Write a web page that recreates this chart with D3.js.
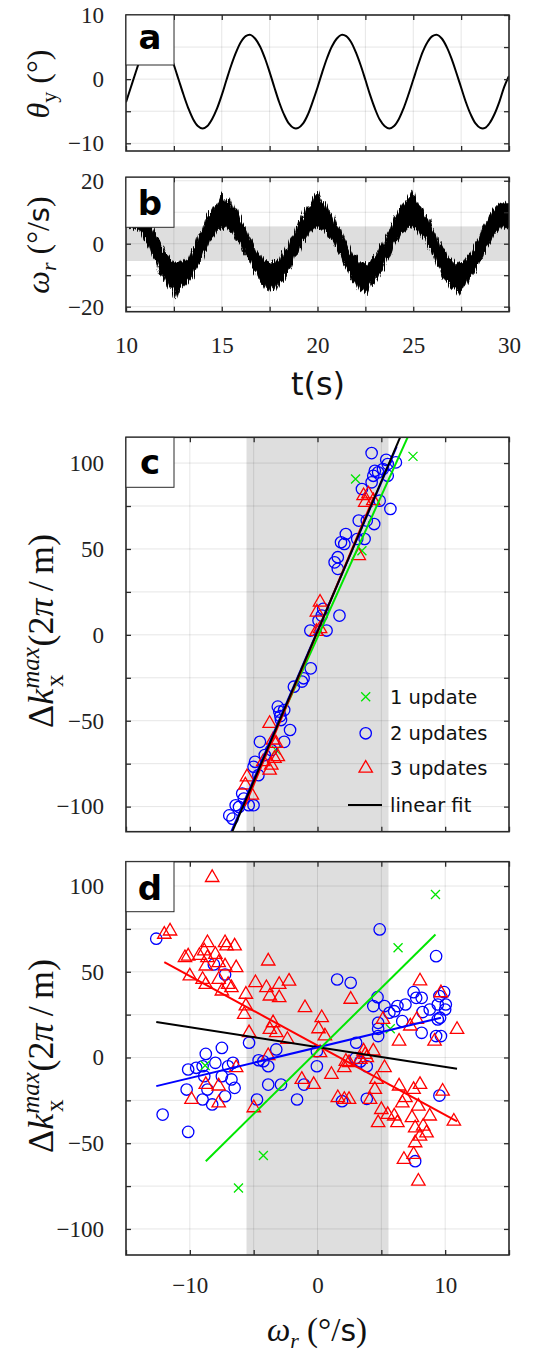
<!DOCTYPE html>
<html><head><meta charset="utf-8">
<script src="https://cdn.jsdelivr.net/npm/d3@7"></script>
<style>body{margin:0;background:#fff}svg{display:block}</style>
</head><body>
<svg id="chart" width="539" height="1353"></svg>
<script>
// ---------------- DATA ----------------
// panel a: theta_y (deg), sampled every 0.25 s from t = 10 s
const thetaValues = [-3.6,-1.3,1.0,3.2,5.0,6.3,6.9,6.7,5.8,4.2,
 2.2,-0.1,-2.4,-4.5,-6.2,-7.3,-7.7,-7.3,-6.2,-4.6,
 -2.5,-0.1,2.2,4.2,5.8,6.7,6.9,6.3,5.1,3.3,
 1.1,-1.3,-3.6,-5.5,-6.9,-7.6,-7.6,-6.9,-5.5,-3.5,
 -1.3,1.1,3.3,5.1,6.3,6.9,6.7,5.8,4.2,2.2,
 -0.1,-2.5,-4.6,-6.3,-7.3,-7.7,-7.3,-6.2,-4.5,-2.4,
 -0.1,2.2,4.3,5.8,6.7,6.9,6.3,5.0,3.2,1.0,
 -1.3,-3.6,-5.5,-6.9,-7.6,-7.6,-6.8,-5.4,-3.5,-1.2,0.5];
const thetaStart = 10, thetaStep = 0.25;

// panel b: omega_r noisy band (upper / lower envelope), every 0.2 s from t = 10 s
const omegaUpper = [12.1,13.9,12.2,13.3,10.4,10.2,6.6,4.6,2.2,-0.2,
 -2.8,-3.5,-5.9,-5.7,-5.9,-5.3,-5.1,-2.0,-0.8,2.9,
 4.2,7.9,9.8,12.0,12.7,15.8,13.1,14.6,11.0,11.4,
 7.7,5.8,3.0,1.1,-2.2,-3.4,-5.5,-5.3,-6.8,-4.8,
 -5.5,-2.6,-1.6,1.8,3.1,6.9,8.0,11.6,11.8,14.9,
 16.5,13.2,13.0,10.1,9.3,6.0,4.6,1.4,-0.5,-3.2,
 -4.0,-6.2,-5.6,-6.8,-4.7,-4.4,-1.8,-0.2,3.0,4.8,
 8.0,9.7,12.0,13.3,14.6,17.1,12.8,11.7,9.0,7.9,
 4.6,2.9,-0.7,-1.8,-4.6,-4.9,-6.6,-5.7,-6.0,-4.1,
 -3.1,-0.2,1.5,4.6,6.5,9.6,11.0,12.4,12.9,13.2,12.7];
const omegaLower = [5.4,4.7,4.9,4.5,3.6,0.6,-0.5,-4.0,-5.5,-9.3,
 -11.2,-14.2,-13.7,-17.6,-14.4,-13.7,-12.5,-11.3,-8.3,-6.6,
 -3.0,-1.8,1.2,2.3,4.5,4.6,5.9,3.9,3.8,1.2,
 0.2,-3.3,-4.5,-8.0,-9.5,-11.8,-13.1,-15.6,-13.6,-15.0,
 -12.4,-11.5,-9.2,-7.5,-4.0,-2.8,0.6,1.7,4.0,4.5,
 5.5,4.3,4.3,2.1,0.7,-2.3,-3.9,-7.1,-8.7,-11.7,
 -12.3,-15.0,-14.6,-16.2,-13.1,-12.4,-10.0,-8.3,-5.2,-3.6,
 -0.2,1.1,3.6,4.0,5.5,4.6,4.7,2.6,1.8,-1.3,
 -2.8,-6.3,-7.9,-10.7,-12.0,-14.3,-13.9,-16.1,-13.5,-13.2,
 -10.4,-9.4,-6.0,-4.4,-1.1,0.5,3.0,3.7,5.6,4.7,5.2];
const omegaStart = 10, omegaStep = 0.2;
const omegaBand = [-5.5, 5.5];

// panel c: [omega_r, dk]
const cOne = [[2.98,90.7],[3.48,49.0],[7.48,103.9],[-3.24,-67.1]];
const cTwo = [[4.24,105.8],[5.38,101.9],[6.14,100.4],[5.5,99.4],[4.49,95.5],[4.75,94.6],[5.5,92.6],[4.37,92.6],[5.13,96.5],[4.24,88.8],
 [3.48,84.9],[4.87,78.1],[5.71,73.3],[3.23,66.5],[3.86,66.5],[4.44,64.5],[2.22,58.7],[1.84,53.9],[2.1,52.9],[3.11,55.8],
 [3.69,55.8],[1.59,45.2],[1.34,42.2],[1.59,38.4],[1.72,11.2],[0.45,15.1],[0.08,8.3],[-0.56,2.5],[0.71,2.5],[0.33,11.2],
 [-0.53,-19.5],[-1.09,-25.3],[-1.22,-27.2],[-1.85,-30.2],[-2.61,-43.8],[-2.99,-44.7],[-2.86,-49.6],[-2.15,-55.4],[-2.61,-62.3],[-4.51,-62.3],
 [-3.62,-67.1],[-4.13,-70.0],[-4.89,-73.9],[-5.01,-76.8],[-4.63,-81.7],[-5.9,-92.4],[-5.77,-95.3],[-6.41,-99.2],[-6.15,-100.2],[-5.01,-99.2],
 [-5.39,-99.2],[-6.91,-105.1],[-6.66,-107.0],[-3.11,-41.8],[-2.91,-47.3]];
const cThree = [[3.61,81],[3.99,82],[3.74,77.1],[4.37,78.1],[3.23,46.1],[0.2,19],[-0.05,13.2],[0.2,3.5],[-0.08,1.9],[-3.75,-51.6],
 [-3.49,-61.3],[-3.24,-63.2],[-3.11,-71],[-3.37,-72],[-3.75,-78.8],[-4.25,-73.9],[-5.52,-82.7],[-5.14,-93.4],[-5.65,-87.5],[-3.62,-75.9]];
// fits: [xStart, xEnd, slope, intercept]
const cFitOne = [-3.3, 7.5, 16.5, -1.5];
const cFitTwo = [-6.9, 6.2, 17.3, 2.3];
const cFitThree = [-5.7, 4.4, 17.8, 1.8];
const cFitAll = [-7.0, 7.0, 17.46, 2.0];

// panel d
const dOne = [[-8.8,-4.7],[-4.24,-57.2],[-6.19,-76.1],[5.7,16.8],[6.31,64],[9.24,95.1]];
const dTwo = [[-12.63,69.3],[-8.12,54.3],[-7.24,48.4],[-7.49,5.6],[-8.75,2.1],[-5.36,8.6],[-3.23,4.7],[-4.61,-1.6],[-4.24,-2.2],[-3.86,-5.1],
 [-10.13,-7],[-9.0,-5.1],[-8.0,-3.1],[-7.0,-5.1],[-6.62,-3.1],[-8.87,-10.9],[-7.49,-10.9],[-6.74,-12.8],[-6.49,-17.7],[-10.25,-18.7],
 [-8.62,-18.7],[-9.0,-24.5],[-7.24,-22.6],[-8.25,-27.4],[-4.74,-24.5],[-3.86,-15.8],[-2.86,-15.8],[-1.6,-24.5],[-12.13,-33.3],[-10.13,-43.4],
 [-9.5,-6],[4.87,74.7],[9.29,59.1],[1.54,45.5],[2.6,43.6],[4.7,35.2],[4.37,30],[5.25,30],[7.53,38.1],[7.73,34.8],
 [8.16,34.8],[6.26,30],[6.89,30.9],[9.92,38.1],[9.55,35.8],[10.05,30.9],[10.0,28],[9.42,30.9],[8.23,26.5],[8.79,28],
 [6.01,27],[5.63,26.1],[9.42,22.2],[9.6,23.2],[4.75,20.2],[4.75,16.7],[4.75,12.5],[8.16,14.4],[9.29,12.5],[9.67,12.5],
 [3.03,8.6],[6.64,21.2],[-0.05,3.7],[-0.05,-5.1],[2.98,-0.4],[3.36,-2.3],[3.86,-5.1],[-1.06,-15.8],[1.92,-25.5],[3.86,-24.1],
 [9.55,-22.2],[7.65,-60.5]];
const dThree = [[-8.25,104.9],[-12.0,71.8],[-11.55,73.7],[-10.13,59.1],[-10.38,58.2],[-9.25,59.5],[-8.62,66.9],[-8.87,62.1],[-8.0,60.1],[-7.24,66.9],
 [-6.49,65],[-7.12,65],[-8.62,58.2],[-8.75,53.3],[-7.74,55.3],[-7.24,53.3],[-6.37,52.3],[-10,47.5],[-9.0,45.5],[-8.75,42.6],
 [-7.74,45.5],[-7.0,42.6],[-7.49,38.7],[-6.74,40.7],[-5.61,36.8],[-5.61,30],[-5.74,25.1],[-3.86,56.2],[-4.86,43.6],[-4.0,40.7],
 [-3.0,42.6],[-2.23,44.5],[-3.73,35.8],[-3.0,34.8],[-3.48,20.2],[-3.73,16.3],[-3.23,14.4],[-5.36,14.4],[-2.36,10.5],[-0.98,29],
 [-6.37,-6],[-8.75,-15.8],[-7.74,-16.7],[-9.87,-24.5],[-7.74,-26.5],[-4.99,-29.4],[-1.23,-12.8],[-3.86,1],
 [8.03,44.6],[9.67,37.7],[2.6,33.9],[0.33,23.2],[0.08,16.7],[0.58,12.5],[0.2,2.8],[5.13,22.2],[7.27,18.3],[10.93,16.3],
 [6.39,9.5],[9.17,9.5],[7.78,22.2],[3.61,3.7],[4.37,3.7],[3.36,-1.2],[3.86,-0.2],[2.47,-3.1],[2.1,-6.0],[1.09,-9.9],
 [5.25,-6],[4.62,-12.8],[-0.3,-15.8],[1.59,-23.5],[2.47,-24.5],[2.1,-24.5],[4.12,-24.5],[4.49,-18.7],[6.39,-16.7],[7.53,-18.7],
 [8.03,-15.8],[9.8,-19.7],[6.89,-23.5],[6.64,-26.5],[7.9,-28.4],[8.79,-34.2],[10.68,-37.2],[5.0,-30.4],[5.5,-33.3],[4.75,-38.1],
 [6.01,-34.2],[6.26,-38.1],[7.4,-35.2],[7.65,-41.1],[8.28,-40.1],[8.03,-45.9],[8.54,-44],[7.65,-49.8],[6.77,-59.5],[7.53,-56.6],
 [7.9,-72.2],[3.74,1.7],[2.22,-2.3]];
const dFitOne = [-8.75, 9.24, 7.35, 3.8];
const dFitTwo = [-12.63, 9.67, 1.79, 5.9];
const dFitThree = [-12.0, 10.93, -4.05, 7.0];
const dFitAll = [-12.63, 10.93, -1.16, 6.1];

const omegaBandC = [-5.56, 5.56];

// tick values / labels
const tTicks = [10,12.5,15,17.5,20,22.5,25,27.5,30];
const tLabels = [10,15,20,25,30];
const aTicks = [-10,-5,0,5,10];
const aLabels = [-10,0,10];
const bTicks = [-20,-10,0,10,20];
const bLabels = [-20,0,20];
const wTicks = [-15,-10,-5,0,5,10,15];
const wLabels = [-10,0,10];
const kTicks = [-100,-75,-50,-25,0,25,50,75,100];
const kLabels = [-100,-50,0,50,100];
const legendLabels = ["1 update","2 updates","3 updates","linear fit"];

// ---------------- DRAW ----------------
const svg = d3.select("#chart");
const defs = svg.append("defs");
const X0 = 126, X1 = 509;
const SERIF = "'Liberation Serif','DejaVu Serif',serif";
const SANS = "'DejaVu Sans',sans-serif";
const BLUE = "#0000ff", RED = "#ff0000", GREEN = "#00e600";
const fmt = v => (v < 0 ? "\u2212" + Math.abs(v) : String(v));

const xT = d3.scaleLinear([10,30],[X0,X1]);
const yA = d3.scaleLinear([-11.2,10],[151,15]);
const yB = d3.scaleLinear([-21.6,21.1],[311.7,177.3]);
const xW = d3.scaleLinear([-15,15],[X0,X1]);
const yC = d3.scaleLinear([-114.6,115],[831.7,437.3]);
const yD = d3.scaleLinear([-115.2,114.2],[1255,861.7]);

// rendering texture for the noisy trace edge (visual style only)
const rough = defs.append("filter").attr("id","rough").attr("filterUnits","userSpaceOnUse")
  .attr("x",100).attr("y",160).attr("width",430).attr("height",170);
rough.append("feTurbulence").attr("type","fractalNoise").attr("baseFrequency","0.9 0.03")
  .attr("numOctaves",2).attr("seed",3).attr("result","n");
rough.append("feDisplacementMap").attr("in","SourceGraphic").attr("in2","n")
  .attr("scale",9).attr("xChannelSelector","G").attr("yChannelSelector","R");

function panel(id, x, y, xTicks, yTicks, xBand, yBand) {
  const [x0,x1] = x.range(), [y1,y0] = y.range();
  defs.append("clipPath").attr("id","clip-"+id).append("rect")
    .attr("x",x0).attr("y",y0).attr("width",x1-x0).attr("height",y1-y0);
  const g = svg.append("g");
  g.append("rect").attr("x",x0).attr("y",y0).attr("width",x1-x0).attr("height",y1-y0).attr("fill","#fff");
  if (xBand) g.append("rect").attr("x",x(xBand[0])).attr("y",y0).attr("width",x(xBand[1])-x(xBand[0])).attr("height",y1-y0).attr("fill","#dedede");
  if (yBand) g.append("rect").attr("x",x0).attr("y",y(yBand[1])).attr("width",x1-x0).attr("height",y(yBand[0])-y(yBand[1])).attr("fill","#dedede");
  g.append("g").selectAll("line").data(xTicks).join("line")
    .attr("x1",d=>x(d)).attr("x2",d=>x(d)).attr("y1",y0).attr("y2",y1)
    .attr("stroke","#000").attr("stroke-opacity",0.1).attr("stroke-width",1);
  g.append("g").selectAll("line").data(yTicks).join("line")
    .attr("y1",d=>y(d)).attr("y2",d=>y(d)).attr("x1",x0).attr("x2",x1)
    .attr("stroke","#000").attr("stroke-opacity",0.1).attr("stroke-width",1);
  const content = g.append("g").attr("clip-path",`url(#clip-${id})`);
  function finish(letter, letterBase) {
    const ax = [
      [d3.axisBottom(x).tickValues(xTicks), `translate(0,${y1})`],
      [d3.axisTop(x).tickValues(xTicks), `translate(0,${y0})`],
      [d3.axisLeft(y).tickValues(yTicks), `translate(${x0},0)`],
      [d3.axisRight(y).tickValues(yTicks), `translate(${x1},0)`]];
    ax.forEach(([a,tr]) => {
      const ag = g.append("g").attr("transform",tr).call(a.tickSize(-5).tickFormat(""));
      ag.select(".domain").remove();
      ag.selectAll("line").attr("stroke","#2a2a2a").attr("stroke-width",1.3);
    });
    g.append("rect").attr("x",x0).attr("y",y0).attr("width",x1-x0).attr("height",y1-y0)
      .attr("fill","none").attr("stroke","#2a2a2a").attr("stroke-width",1.6);
    g.append("rect").attr("x",x0).attr("y",y0).attr("width",48).attr("height",50)
      .attr("fill","#fff").attr("stroke","#2a2a2a").attr("stroke-width",1);
    g.append("text").attr("x",x0+24).attr("y",y0+letterBase).attr("text-anchor","middle")
      .attr("font-family",SANS).attr("font-weight","bold").attr("font-size",34).text(letter);
  }
  return {g, content, finish};
}

function yLabels(g, y, vals, x0) {
  const ag = g.append("g").attr("transform",`translate(${x0},0)`)
    .call(d3.axisLeft(y).tickValues(vals).tickSize(0).tickPadding(22).tickFormat(fmt));
  ag.select(".domain").remove();
  ag.selectAll("text").attr("font-family",SERIF).attr("font-size",23).attr("fill","#222");
}
function xLabels(g, x, vals, yPos, pad) {
  const ag = g.append("g").attr("transform",`translate(0,${yPos})`)
    .call(d3.axisBottom(x).tickValues(vals).tickSize(0).tickPadding(pad).tickFormat(fmt));
  ag.select(".domain").remove();
  ag.selectAll("text").attr("font-family",SERIF).attr("font-size",23).attr("fill","#222");
}

// markers
function circles(sel, data, x, y) {
  sel.append("g").selectAll("circle").data(data).join("circle")
    .attr("cx",d=>x(d[0])).attr("cy",d=>y(d[1])).attr("r",5.7)
    .attr("fill","none").attr("stroke",BLUE).attr("stroke-width",1.3);
}
const triPath = d3.symbol(d3.symbolTriangle, 78)();
function triangles(sel, data, x, y) {
  sel.append("g").selectAll("path").data(data).join("path")
    .attr("d",triPath).attr("transform",d=>`translate(${x(d[0])},${y(d[1])})`)
    .attr("fill","none").attr("stroke",RED).attr("stroke-width",1.3);
}
const crossPath = "M-4.5,-4.5L4.5,4.5M-4.5,4.5L4.5,-4.5";
function crosses(sel, data, x, y) {
  sel.append("g").selectAll("path").data(data).join("path")
    .attr("d",crossPath).attr("transform",d=>`translate(${x(d[0])},${y(d[1])})`)
    .attr("fill","none").attr("stroke",GREEN).attr("stroke-width",1.3);
}
function fitLine(sel, fit, x, y, color) {
  const [a,b,m,c] = fit;
  sel.append("line").attr("x1",x(a)).attr("y1",y(m*a+c)).attr("x2",x(b)).attr("y2",y(m*b+c))
    .attr("stroke",color).attr("stroke-width",2);
}

// ---- panel a
const pA = panel("a", xT, yA, tTicks, aTicks, null, null);
const thetaData = thetaValues.map((v,i)=>[thetaStart + i*thetaStep, v]);
pA.content.append("path").datum(thetaData)
  .attr("d", d3.line().x(d=>xT(d[0])).y(d=>yA(d[1])).curve(d3.curveCatmullRom))
  .attr("fill","none").attr("stroke","#000").attr("stroke-width",2);
pA.finish("a", 34);
yLabels(pA.g, yA, aLabels, X0);

// ---- panel b
const pB = panel("b", xT, yB, tTicks, bTicks, null, omegaBand);
const omegaData = omegaUpper.map((v,i)=>[omegaStart + i*omegaStep, v, omegaLower[i]]);
pB.content.append("g").attr("filter","url(#rough)").append("path").datum(omegaData)
  .attr("d", d3.area().x(d=>xT(d[0])).y0(d=>yB(d[2])).y1(d=>yB(d[1])))
  .attr("fill","#000").attr("stroke","#000").attr("stroke-width",0.6);
pB.finish("b", 38);
yLabels(pB.g, yB, bLabels, X0);
xLabels(pB.g, xT, tLabels, 311.7, 25);

// ---- panel c
const pC = panel("c", xW, yC, wTicks, kTicks, omegaBandC, null);
crosses(pC.content, cOne, xW, yC);
circles(pC.content, cTwo, xW, yC);
triangles(pC.content, cThree, xW, yC);
fitLine(pC.content, cFitTwo, xW, yC, BLUE);
fitLine(pC.content, cFitOne, xW, yC, GREEN);
fitLine(pC.content, cFitThree, xW, yC, RED);
fitLine(pC.content, cFitAll, xW, yC, "#000");
pC.finish("c", 37);
yLabels(pC.g, yC, kLabels, X0);

// legend
const lgX = 365.7, lgRows = [696.7, 733.3, 768.3, 805];
crosses(pC.g, [[0,0]], ()=>lgX, ()=>lgRows[0]);
circles(pC.g, [[0,0]], ()=>lgX, ()=>lgRows[1]);
triangles(pC.g, [[0,0]], ()=>lgX, ()=>lgRows[2]);
pC.g.append("line").attr("x1",348).attr("x2",382).attr("y1",lgRows[3]).attr("y2",lgRows[3])
  .attr("stroke","#000").attr("stroke-width",2);
pC.g.append("g").selectAll("text").data(legendLabels).join("text")
  .attr("x",390).attr("y",(d,i)=>lgRows[i]+7).attr("font-family",SANS).attr("font-size",19.5)
  .attr("fill","#111").text(d=>d);

// ---- panel d
const pD = panel("d", xW, yD, wTicks, kTicks, omegaBandC, null);
circles(pD.content, dTwo, xW, yD);
triangles(pD.content, dThree, xW, yD);
crosses(pD.content, dOne, xW, yD);
fitLine(pD.content, dFitThree, xW, yD, RED);
fitLine(pD.content, dFitAll, xW, yD, "#000");
fitLine(pD.content, dFitTwo, xW, yD, BLUE);
fitLine(pD.content, dFitOne, xW, yD, GREEN);
pD.finish("d", 38);
yLabels(pD.g, yD, kLabels, X0);
xLabels(pD.g, xW, wLabels, 1255, 22);

// ---- axis titles
function rotLabel(cx, cy, size, build) {
  const t = svg.append("text").attr("transform",`translate(${cx},${cy}) rotate(-90)`)
    .attr("text-anchor","middle").attr("font-family",SERIF).attr("font-size",size).attr("fill","#111");
  build(t);
}
rotLabel(49, 84, 32, t => {
  t.append("tspan").attr("font-style","italic").text("\u03B8");
  t.append("tspan").attr("font-size",22).attr("dy",7).text("y");
  t.append("tspan").attr("dy",-7).text(" (\u00B0)");
});
rotLabel(49, 245, 32, t => {
  t.append("tspan").attr("font-style","italic").text("\u03C9");
  t.append("tspan").attr("font-style","italic").attr("font-size",22).attr("dy",7).text("r");
  t.append("tspan").attr("dy",-7).text("  (\u00B0/");
  t.append("tspan").attr("font-family",SANS).attr("font-size",29).text("s");
  t.append("tspan").text(")");
});
[631, 1056].forEach(cy => rotLabel(53, cy, 36, t => {
  t.append("tspan").text("\u0394");
  t.append("tspan").attr("font-style","italic").text("k");
  t.append("tspan").attr("font-style","italic").attr("font-size",25).attr("dy",-14).text("max");
  t.append("tspan").attr("font-size",25).attr("dx",-40).attr("dy",24).text("x");
  t.append("tspan").attr("dx",28).attr("dy",-10).text("(2");
  t.append("tspan").attr("font-style","italic").text("\u03C0");
  t.append("tspan").text("\u2009/\u2009m)");
}));
svg.append("text").attr("x",318).attr("y",395).attr("text-anchor","middle")
  .attr("font-family",SANS).attr("font-size",32).attr("fill","#111").text("t(s)");
const bt = svg.append("text").attr("x",317).attr("y",1341).attr("text-anchor","middle")
  .attr("font-family",SERIF).attr("font-size",33).attr("fill","#111");
bt.append("tspan").attr("font-style","italic").text("\u03C9");
bt.append("tspan").attr("font-style","italic").attr("font-size",22).attr("dy",7).text("r");
bt.append("tspan").attr("dy",-7).text("  (\u00B0/");
bt.append("tspan").attr("font-family",SANS).attr("font-size",30).text("s");
bt.append("tspan").text(")");
</script>
</body></html>
